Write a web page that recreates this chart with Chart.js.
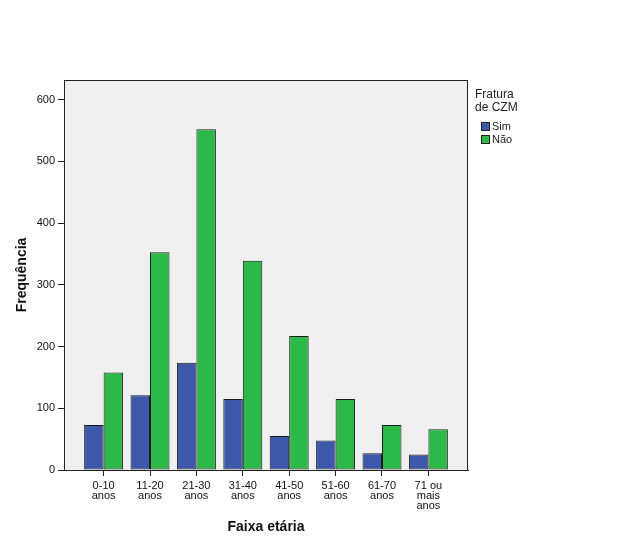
<!DOCTYPE html>
<html>
<head>
<meta charset="utf-8">
<script src="https://cdn.jsdelivr.net/npm/chart.js@4/dist/chart.umd.min.js"></script>
<style>
  html, body { margin: 0; padding: 0; background: #ffffff; }
  #wrap { width: 626px; height: 541px; position: relative; }
</style>
</head>
<body>
<div id="wrap"><canvas id="c" width="626" height="541"></canvas></div>
<script>
// ---- data ----
const categories = [["0-10","anos"],["11-20","anos"],["21-30","anos"],["31-40","anos"],["41-50","anos"],["51-60","anos"],["61-70","anos"],["71 ou","mais","anos"]];
const simValues = [73, 121, 174, 115, 55, 48, 27, 25];
const naoValues = [158, 353, 552, 339, 217, 115, 73, 66];
const yTickValues = [0, 100, 200, 300, 400, 500, 600];
const seriesNames = ["Sim", "Não"];
const legendTitle = ["Fratura", "de CZM"];
const xTitle = "Faixa etária";
const yTitle = "Frequência";

const colors = ["#3D57AA", "#2DB84A"];
const FONT = "'Liberation Sans', Arial, sans-serif";

const framePlugin = {
  id: 'frame',
  beforeDatasetsDraw(chart) {
    const {ctx, chartArea: a} = chart;
    ctx.save();
    ctx.fillStyle = '#F0F0F0';
    ctx.fillRect(a.left, a.top, a.right - a.left, a.bottom - a.top);
    ctx.restore();
  },
  afterDraw(chart) {
    const {ctx, chartArea: a} = chart;
    ctx.save();
    ctx.strokeStyle = '#222';
    ctx.lineWidth = 1;
    ctx.strokeRect(Math.round(a.left) + 0.5, Math.round(a.top) + 0.5, Math.round(a.right - a.left) - 1, Math.round(a.bottom - a.top));
    // legend
    ctx.fillStyle = '#222';
    ctx.font = '12px ' + FONT;
    ctx.textBaseline = 'alphabetic';
    ctx.textAlign = 'left';
    ctx.fillText(legendTitle[0], 475, 98);
    ctx.fillText(legendTitle[1], 475, 111);
    ctx.font = '11px ' + FONT;
    seriesNames.forEach((n, i) => {
      const y = 122 + i * 13;
      ctx.fillStyle = colors[i];
      ctx.fillRect(481, y, 9, 9);
      ctx.strokeStyle = '#222';
      ctx.strokeRect(481.5, y + 0.5, 8, 8);
      ctx.fillStyle = '#222';
      ctx.textBaseline = 'middle';
      ctx.fillText(n, 492, y + 5);
    });
    ctx.restore();
  }
};

const chart = new Chart(document.getElementById('c'), {
  type: 'bar',
  data: {
    datasets: [
      { label: seriesNames[0], data: simValues.map((v, i) => ({x: i, y: v})), backgroundColor: colors[0], borderColor: '#1a1a1a', borderWidth: 1, borderSkipped: false },
      { label: seriesNames[1], data: naoValues.map((v, i) => ({x: i, y: v})), backgroundColor: colors[1], borderColor: '#1a1a1a', borderWidth: 1, borderSkipped: false }
    ]
  },
  options: {
    responsive: false,
    animation: false,
    devicePixelRatio: 1,
    layout: { padding: { top: 80, right: 158, left: 0, bottom: 0 } },
    plugins: { legend: { display: false }, tooltip: { enabled: false } },
    datasets: { bar: { categoryPercentage: 0.84, barPercentage: 1.0 } },
    scales: {
      x: {
        type: 'linear',
        min: -0.854,
        max: 7.854,
        offset: false,
        afterBuildTicks(s) { s.ticks = categories.map((c, i) => ({ value: i })); },
        afterFit(s) { s.height = 71; },
        ticks: {
          autoSkip: false, maxRotation: 0, minRotation: 0,
          color: '#111', padding: 5,
          font: { family: FONT, size: 11, lineHeight: '10px' },
          callback: (v) => categories[v]
        },
        grid: { display: true, offset: false, drawOnChartArea: false, drawTicks: true, tickLength: 6, color: '#222' },
        border: { display: true, color: '#222' },
        title: { display: true, text: xTitle, color: '#111', font: { family: FONT, size: 14, weight: 'bold' }, padding: { top: 0, bottom: 5 } }
      },
      y: {
        min: 0,
        max: 632,
        afterBuildTicks(s) { s.ticks = yTickValues.map(v => ({ value: v })); },
        afterFit(s) { s.width = 64; },
        ticks: { color: '#111', padding: 3, font: { family: FONT, size: 11 } },
        grid: { display: true, drawOnChartArea: false, drawTicks: true, tickLength: 6, color: '#222' },
        border: { display: true, color: '#222' },
        title: { display: true, text: yTitle, color: '#111', font: { family: FONT, size: 14, weight: 'bold' }, padding: { top: 14, bottom: 0 } }
      }
    }
  },
  plugins: [framePlugin]
});
</script>
</body>
</html>
